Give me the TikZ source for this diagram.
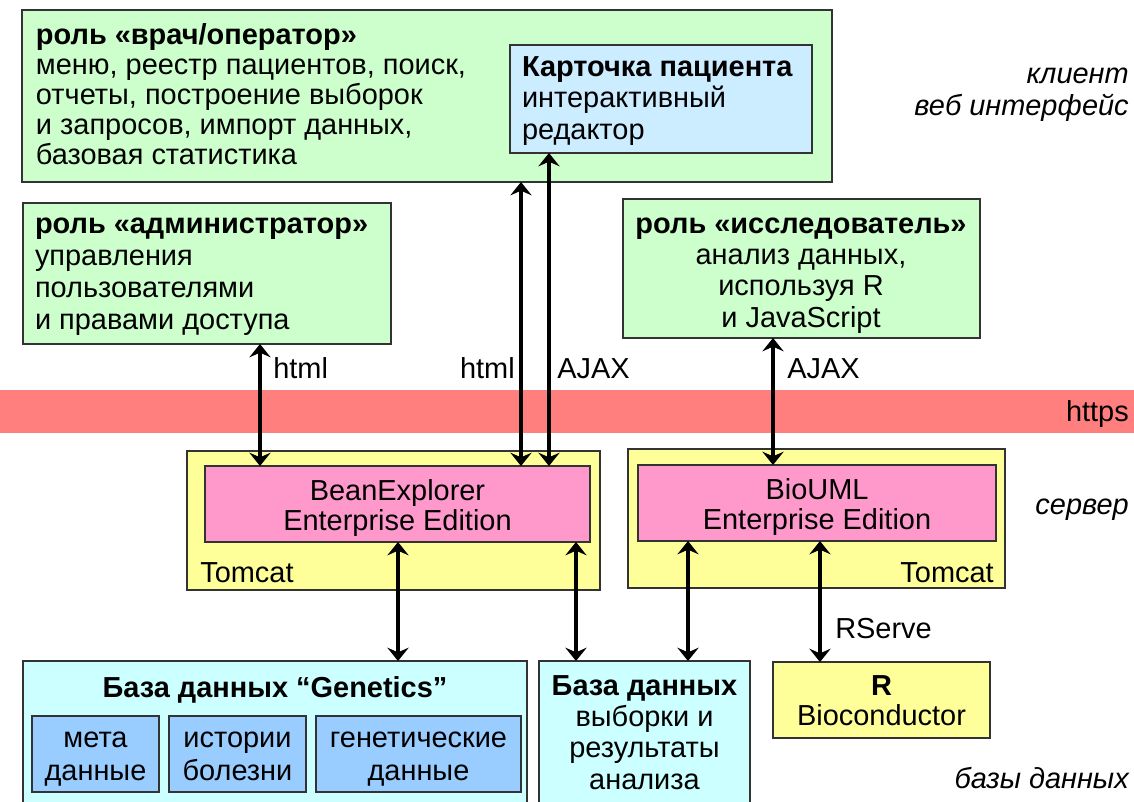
\documentclass[tikz,border=0pt]{standalone}
\usepackage{fontspec}
\setmainfont{Liberation Sans}
\usetikzlibrary{arrows.meta,fit}
\definecolor{cgreen}{HTML}{CCFFCC}
\definecolor{cblue}{HTML}{CCECFF}
\definecolor{cyel}{HTML}{FFFF99}
\definecolor{cpink}{HTML}{FF99CC}
\definecolor{ccyan}{HTML}{CCFFFF}
\definecolor{cdblue}{HTML}{99CCFF}
\definecolor{cband}{HTML}{FF7F7F}
\definecolor{cbord}{HTML}{333333}
\begin{document}
\begin{tikzpicture}[x=0.75pt,y=-0.75pt,
  box/.style={draw=cbord, line width=0.9pt, inner sep=0pt, outer sep=0pt},
  txt/.style={font=\fontsize{21.7}{22.5}\selectfont, inner sep=0pt, outer sep=0pt},
  txtb/.style={txt, font=\fontsize{21.7}{24}\selectfont},
  ital/.style={inner sep=0pt, font=\fontsize{21.7}{24}\selectfont\itshape, anchor=base east},
  lbl/.style={inner sep=0pt, font=\fontsize{21.7}{24}\selectfont},
  conn/.style={line width=3pt, {Stealth[length=10pt,width=16pt,inset=3.5pt]}-{Stealth[length=10pt,width=16pt,inset=3.5pt]}}
]
\useasboundingbox (0,0) rectangle (1134,801);
\fill[white] (0,0) rectangle (1134,801);
% https band
\node[fit={(0,390)(1134,433)}, fill=cband, inner sep=0pt] (band) {};
\node[lbl, anchor=base east] (https) at (1129,421) {https};
% client boxes (multi-line nodes are anchored at the baseline of their last line)
\node[box, fill=cgreen, fit={(22,10)(832,182)}] (op) {};
\node[txt, anchor=base west, align=left] (optxt) at (36,164)
  {\textbf{роль «врач/оператор»}\\меню, реестр пациентов, поиск,\\отчеты, построение выборок\\и запросов, импорт данных,\\базовая статистика};
\node[box, fill=cblue, fit={(510,45)(812,153)}] (card) {};
\node[txt, anchor=base west, align=left, font=\fontsize{21.7}{23.5}\selectfont] (cardtxt) at (522,139)
  {\textbf{Карточка пациента}\\интерактивный\\редактор};
\node[box, fill=cgreen, fit={(23,203)(391,344)}] (adm) {};
\node[txtb, anchor=base west, align=left] (admtxt) at (35,329)
  {\textbf{роль «администратор»}\\управления\\пользователями\\и правами доступа};
\node[box, fill=cgreen, fit={(623,199)(980,338)}] (res) {};
\node[txt, anchor=base, align=center, font=\fontsize{21.7}{23.5}\selectfont] (restxt) at (801,327)
  {\textbf{роль «исследователь»}\\анализ данных,\\используя R\\и JavaScript};
% server
\node[box, fill=cyel, fit={(187,451)(600,590)}] (tc1) {};
\node[box, fill=cpink, fit={(205,466)(590,542)}] (be) {};
\node[txt, anchor=base, align=center] (betxt) at (397.5,530) {BeanExplorer\\Enterprise Edition};
\node[lbl, anchor=base west] (tc1lbl) at (200,582) {Tomcat};
\node[box, fill=cyel, fit={(628,449)(1005,588)}] (tc2) {};
\node[box, fill=cpink, fit={(638,465)(996,541)}] (bio) {};
\node[txt, anchor=base, align=center] (biotxt) at (817,529) {BioUML\\Enterprise Edition};
\node[lbl, anchor=base east] (tc2lbl) at (994,582) {Tomcat};
% databases
\node[box, fill=ccyan, fit={(23,661)(527,810)}] (gen) {};
\node[lbl, anchor=base, font=\fontsize{21.7}{24}\selectfont\bfseries] (gentxt) at (275,697) {База данных “Genetics”};
\node[box, fill=cdblue, fit={(32,716)(159,792)}] (meta) {};
\node[box, fill=cdblue, fit={(169,716)(306,792)}] (hist) {};
\node[box, fill=cdblue, fit={(316,716)(521,792)}] (gd) {};
\node[txt, anchor=base, align=center, font=\fontsize{21.7}{24.5}\selectfont] at (95.5,780) (metatxt) {мета\\данные};
\node[txt, anchor=base, align=center, font=\fontsize{21.7}{24.5}\selectfont] at (237.5,780) (histtxt) {истории\\болезни};
\node[txt, anchor=base, align=center, font=\fontsize{21.7}{24.5}\selectfont] at (418.5,780) (gdtxt) {генетические\\данные};
\node[box, fill=ccyan, fit={(539,661)(750,810)}] (sel) {};
\node[txt, anchor=base, align=center, font=\fontsize{21.7}{23.5}\selectfont] (seltxt) at (644.5,789)
  {\textbf{База данных}\\выборки и\\результаты\\анализа};
\node[box, fill=cyel, fit={(773,662)(990,738)}] (rb) {};
\node[txt, anchor=base, align=center] (rtxt) at (881.5,725) {\textbf{R}\\Bioconductor};
% layer labels
\node[ital] (l1) at (1129,83) {клиент};
\node[ital] (l2) at (1129,115) {веб интерфейс};
\node[ital] (l3) at (1129,514) {сервер};
\node[ital] (l4) at (1129,788) {базы данных};
% x positions of connectors
\coordinate (xa) at (260,0);
\coordinate (xb) at (521,0);
\coordinate (xc) at (549,0);
\coordinate (xd) at (773,0);
\coordinate (xe) at (398,0);
\coordinate (xf) at (576,0);
\coordinate (xg) at (688,0);
\coordinate (xh) at (820,0);
% connectors
\draw[conn] (adm.south -| xa) -- (be.north -| xa);
\draw[conn] (op.south -| xb) -- (be.north -| xb);
\draw[conn] (card.south -| xc) -- (be.north -| xc);
\draw[conn] (res.south -| xd) -- (bio.north -| xd);
\node[lbl, anchor=base west] (h1) at (273,378) {html};
\node[lbl, anchor=base east] (h2) at (515,378) {html};
\node[lbl, anchor=base west] (a1) at (557,378) {AJAX};
\node[lbl, anchor=base west] (a2) at (787,378) {AJAX};
\draw[conn] (be.south -| xe) -- (gen.north -| xe);
\draw[conn] (be.south -| xf) -- (sel.north -| xf);
\draw[conn] (bio.south -| xg) -- (sel.north -| xg);
\draw[conn] (bio.south -| xh) -- (rb.north -| xh);
\node[lbl, anchor=base west] (rs) at (835,638) {RServe};
\end{tikzpicture}
\end{document}
